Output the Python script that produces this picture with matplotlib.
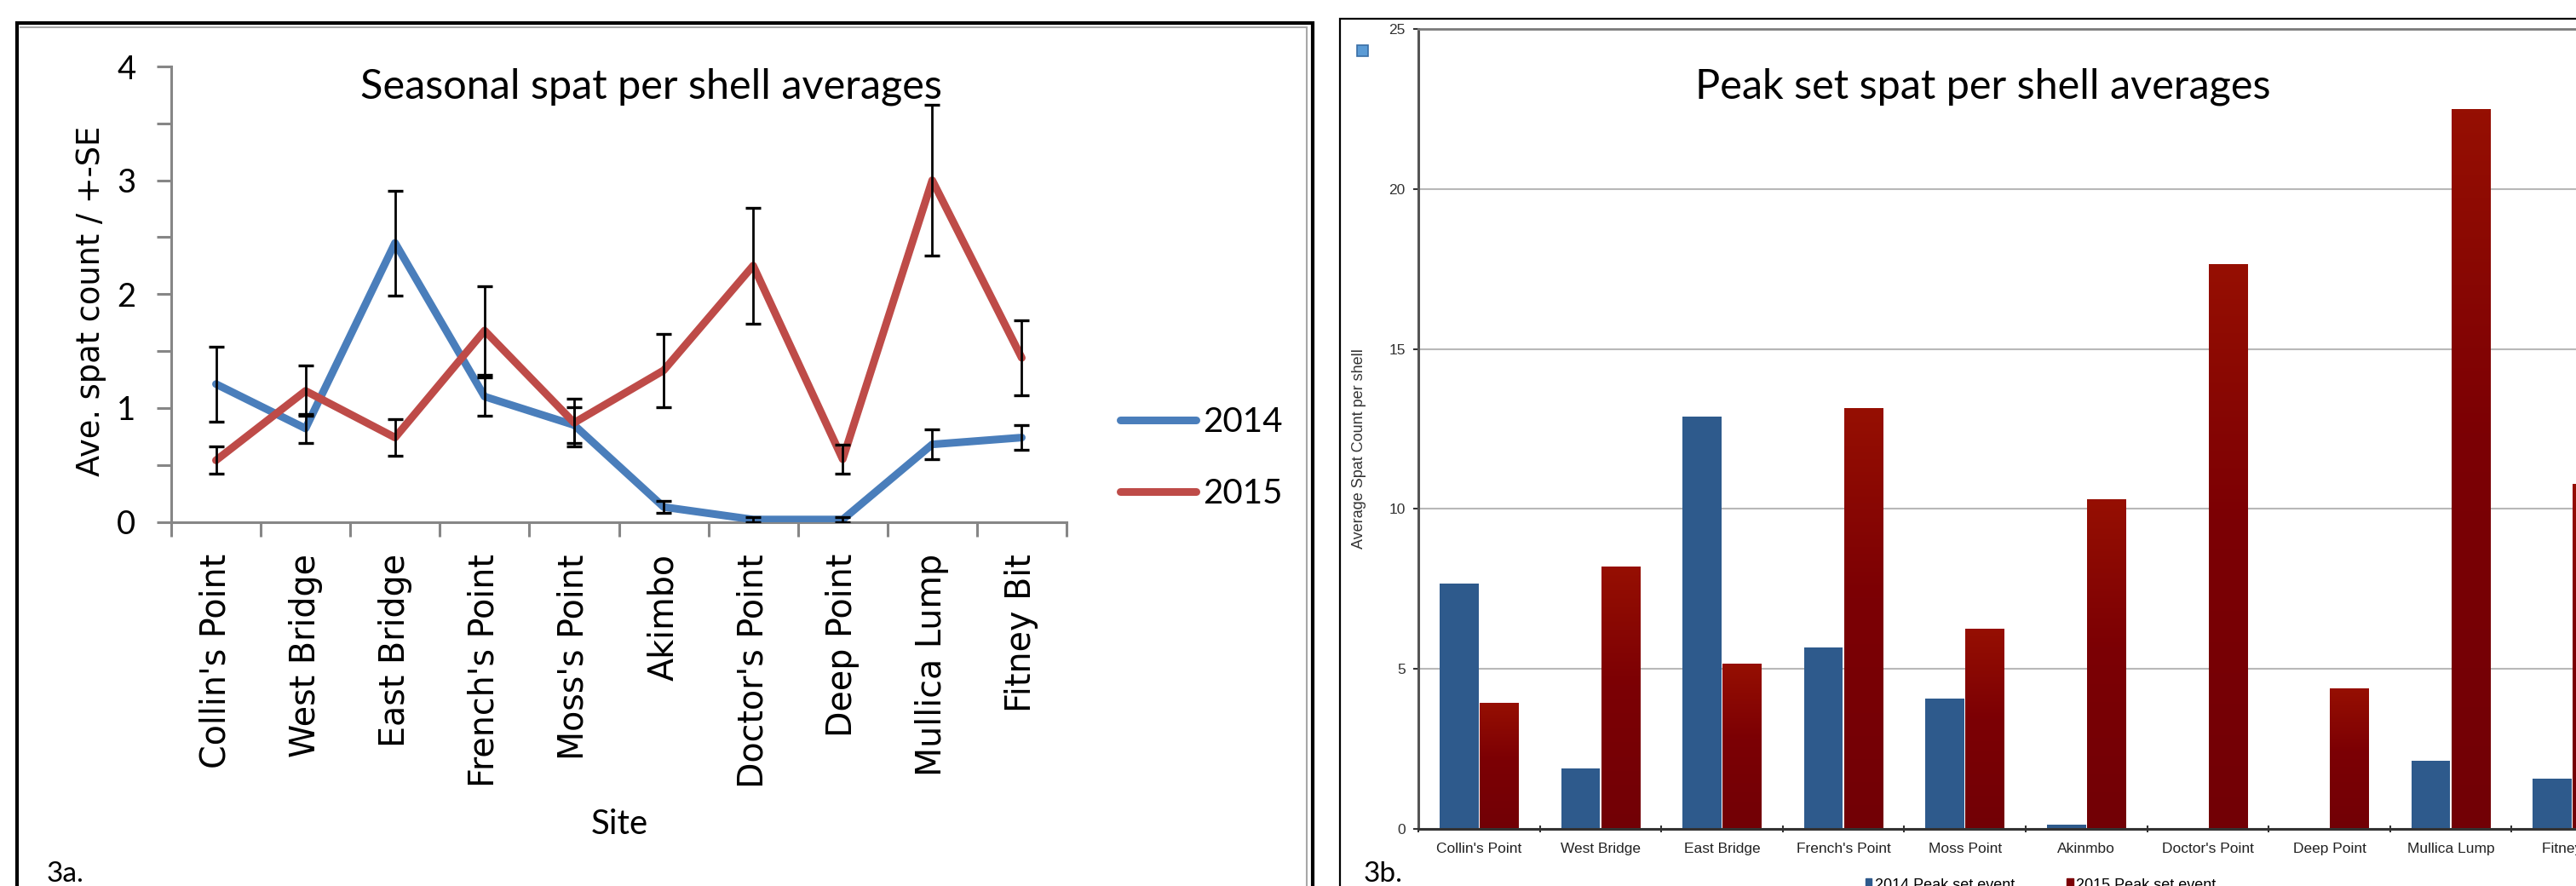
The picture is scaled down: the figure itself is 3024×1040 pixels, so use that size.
import numpy as np
import matplotlib
matplotlib.use("Agg")
import matplotlib.pyplot as plt
from matplotlib.patches import Rectangle, Patch
from matplotlib.lines import Line2D
from matplotlib.colors import LinearSegmentedColormap

# 3a: seasonal averages with standard errors
sites_a = ["Collin's Point", "West Bridge", "East Bridge", "French's Point", "Moss's Point",
           "Akimbo", "Doctor's Point", "Deep Point", "Mullica Lump", "Fitney Bit"]
mean_2014 = [1.21, 0.82, 2.45, 1.10, 0.85, 0.13, 0.02, 0.02, 0.68, 0.74]
se_2014 = [0.33, 0.13, 0.46, 0.17, 0.155, 0.05, 0.02, 0.02, 0.13, 0.11]
mean_2015 = [0.54, 1.15, 0.74, 1.68, 0.87, 1.33, 2.25, 0.55, 3.00, 1.44]
se_2015 = [0.12, 0.22, 0.16, 0.39, 0.21, 0.32, 0.51, 0.13, 0.66, 0.33]

# 3b: peak set event averages
sites_b = ["Collin's Point", "West Bridge", "East Bridge", "French's Point", "Moss Point",
           "Akinmbo", "Doctor's Point", "Deep Point", "Mullica Lump", "Fitney Bit"]
peak_2014 = [7.67, 1.89, 12.88, 5.66, 4.08, 0.14, 0, 0, 2.13, 1.57]
peak_2015 = [3.93, 8.20, 5.15, 13.14, 6.25, 10.29, 17.64, 4.39, 22.49, 10.78]

W, H = 3024, 1040
fig = plt.figure(figsize=(W / 100, H / 100), dpi=100)


def fx(px):
    return px / W


def fy(py):
    return 1 - py / H


BLUE = "#4a7ebb"
RED = "#be4b48"
AXGRAY = "#868686"

# ---------------- left: line chart ----------------
ax1 = fig.add_axes([fx(201), fy(612.5), (1252 - 201) / W, (612.5 - 78) / H])
x = np.arange(len(sites_a))
l14, = ax1.plot(x, mean_2014, color=BLUE, lw=6.5, solid_joinstyle="round",
                solid_capstyle="round", zorder=3)
l15, = ax1.plot(x, mean_2015, color=RED, lw=6.5, solid_joinstyle="round",
                solid_capstyle="round", zorder=3)
for m, s in [(mean_2014, se_2014), (mean_2015, se_2015)]:
    ax1.errorbar(x, m, yerr=s, fmt="none", ecolor="black", elinewidth=2.0,
                 capsize=6.5, capthick=2.4, zorder=4)

ax1.set_xlim(-0.5, 9.5)
ax1.set_ylim(0, 4)
ax1.set_yticks([0, 1, 2, 3, 4])
ax1.set_yticks(np.arange(0.5, 4, 1), minor=True)
ax1.set_xticks(x)
ax1.set_xticklabels(sites_a, rotation=90, fontfamily="DejaVu Sans", fontsize=28.5)
ax1.set_xticks(np.arange(-0.5, 10, 1), minor=True)
ax1.tick_params(axis="x", which="major", length=0, pad=27)
ax1.tick_params(axis="x", which="minor", direction="out", length=12, width=2.2, color=AXGRAY)
ax1.tick_params(axis="y", which="both", direction="out", length=12, width=2.2, color=AXGRAY, pad=18)
for lab in ax1.get_yticklabels():
    lab.set_fontfamily("Lato")
    lab.set_fontsize(27.5)
for side in ["top", "right"]:
    ax1.spines[side].set_visible(False)
for side in ["left", "bottom"]:
    ax1.spines[side].set_color(AXGRAY)
    ax1.spines[side].set_linewidth(2.2)

fig.text(fx(107), fy(353), "Ave. spat count / +-SE", rotation=90, ha="center", va="center",
         fontfamily="DejaVu Sans", fontsize=26.5)
fig.text(fx(764), fy(116), "Seasonal spat per shell averages", ha="center", va="baseline",
         fontfamily="Lato", fontsize=35)
fig.text(fx(727), fy(979), "Site", ha="center", va="baseline", fontfamily="Lato", fontsize=29)
fig.text(fx(55), fy(1035), "3a.", ha="left", va="baseline", fontfamily="Lato", fontsize=24)

fig.legend([l14, l15], ["2014", "2015"], loc="center left",
           bbox_to_anchor=(fx(1315), fy(537.5)), bbox_transform=fig.transFigure,
           frameon=False, prop={"family": "Lato", "size": 29}, handlelength=2.2,
           handletextpad=0.2, labelspacing=1.15, borderpad=0, borderaxespad=0)

# panel frame
fig.add_artist(Rectangle((fx(20), fy(1080)), (1541 - 20) / W, (1080 - 27) / H,
                         transform=fig.transFigure, fill=False, edgecolor="black", lw=3))
fig.add_artist(Line2D([fx(1534), fx(1534)], [fy(33), fy(1080)], transform=fig.transFigure,
                      color="#a8a8a8", lw=1.5))
fig.add_artist(Line2D([fx(24), fx(1534)], [fy(32), fy(32)], transform=fig.transFigure,
                      color="#a8a8a8", lw=1.5))

# ---------------- right: bar chart ----------------
ax2 = fig.add_axes([fx(1665), fy(973), 1426 / W, (973 - 34) / H])
xb = np.arange(len(sites_b))
w = 0.32
ax2.bar(xb - 0.165, peak_2014, w, color="#2e5a8c", linewidth=0, zorder=2)
bars15 = ax2.bar(xb + 0.165, peak_2015, w, color="#7b0005", linewidth=0, zorder=2)

red_cmap = LinearSegmentedColormap.from_list(
    "deepred", [(0.0, "#720006"), (0.55, "#7c0004"), (1.0, "#960f02")])
grad = np.linspace(0, 1, 256).reshape(-1, 1)
for rect in bars15:
    x0, wd, hh = rect.get_x(), rect.get_width(), rect.get_height()
    if hh <= 0:
        continue
    ax2.imshow(grad, extent=(x0, x0 + wd, 0, hh), origin="lower", aspect="auto",
               cmap=red_cmap, zorder=2.5, interpolation="bilinear")

ax2.set_xlim(-0.5, 9.5)
ax2.set_ylim(0, 25)
ax2.set_yticks([0, 5, 10, 15, 20, 25])
ax2.yaxis.grid(True, color="#b8b8b8", lw=1.5)
ax2.set_axisbelow(True)
ax2.set_xticks(xb)
ax2.set_xticklabels(sites_b, fontfamily="Liberation Sans", fontsize=12.5)
ax2.set_xticks(np.arange(-0.5, 10, 1), minor=True)
ax2.tick_params(axis="x", which="major", length=0, pad=11.5)
ax2.tick_params(axis="x", which="minor", direction="inout", length=6, width=1.5, color="#333333")
ax2.tick_params(axis="y", direction="out", length=4, width=1.5, color="#333333", pad=7)
for lab in ax2.get_yticklabels():
    lab.set_fontfamily("Liberation Sans")
    lab.set_fontsize(12.5)
    lab.set_color("#333333")
for lab in ax2.get_xticklabels():
    lab.set_color("#222222")
ax2.spines["right"].set_visible(False)
ax2.spines["left"].set_color("#555555")
ax2.spines["left"].set_linewidth(2.2)
ax2.spines["bottom"].set_color("#333333")
ax2.spines["bottom"].set_linewidth(2.2)
ax2.spines["top"].set_color("#7a7a7a")
ax2.spines["top"].set_linewidth(2)

fig.text(fx(1596), fy(527), "Average Spat Count per shell", rotation=90, ha="center",
         va="center", fontfamily="Liberation Sans", fontsize=13, color="#333333")
fig.text(fx(2328), fy(116), "Peak set spat per shell averages", ha="center", va="baseline",
         fontfamily="Lato", fontsize=35)
fig.text(fx(1601), fy(1035), "3b.", ha="left", va="baseline", fontfamily="Lato", fontsize=24)

fig.legend([Patch(color="#2e5a8c"), Patch(color="#7b0005")],
           ["2014 Peak set event", "2015 Peak set event"], loc="upper left",
           bbox_to_anchor=(fx(2190), fy(1031)), bbox_transform=fig.transFigure, ncol=2,
           frameon=False, prop={"family": "Liberation Sans", "size": 13},
           handlelength=0.4, handleheight=0.8, handletextpad=0.2, columnspacing=3.4,
           borderpad=0, borderaxespad=0)

fig.add_artist(Rectangle((fx(1573), fy(1100)), (3200 - 1573) / W, (1100 - 22) / H,
                         transform=fig.transFigure, fill=False, edgecolor="black", lw=1.6))
fig.add_artist(Rectangle((fx(1593), fy(66)), 13 / W, 13 / H, transform=fig.transFigure,
                         facecolor="#5b9bd5", edgecolor="#3a6ea5", lw=1.2))

fig.savefig("out.png", dpi=100)
